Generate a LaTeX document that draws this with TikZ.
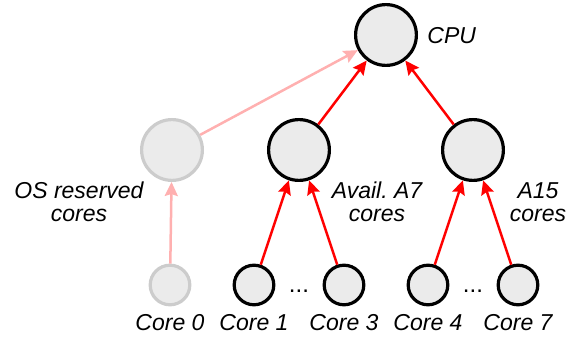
\documentclass[tikz,border=0pt]{standalone}
\usepackage{fontspec}
\setmainfont{Liberation Sans}
\usetikzlibrary{arrows.meta}
\definecolor{corefill}{HTML}{EBEBEB}
\definecolor{osgrey}{HTML}{CCCCCC}
\definecolor{ospink}{HTML}{FFB0B0}

\begin{document}
\begin{tikzpicture}[x=0.5pt,y=-0.5pt]
\tikzstyle{every node}+=[inner sep=0pt, font=\fontsize{11.5}{11.5}\selectfont\itshape]
\tikzstyle{big}=[circle, draw=black, line width=1.6pt, fill=corefill, minimum size=30.4pt]
\tikzstyle{small}=[circle, draw=black, line width=1.6pt, fill=corefill, minimum size=19.8pt]
\tikzstyle{reserved}=[draw=osgrey]
\tikzstyle{link}=[-{Stealth[length=7pt,width=6.5pt,inset=1pt]}, red, line width=1.25pt]
\tikzstyle{oslink}=[link, ospink]
\useasboundingbox (0,0) rectangle (580,341);
% tree nodes
\node [big] (cpu) at (386,35) {};
\node [big, reserved] (os) at (172,150) {};
\node [big] (a7) at (299,150) {};
\node [big] (a15) at (473,150) {};
\node [small, reserved] (c0) at (170,285) {};
\node [small] (c1) at (254,285) {};
\node [small] (c3) at (344,285) {};
\node [small] (c4) at (428,285) {};
\node [small] (c7) at (518,285) {};
% labels
\node [anchor=west] (cpulabel) at (427,36) {CPU};
\node [align=center] (oslabel) at (79,202) {OS reserved\\cores};
\node [align=center] (a7label) at (377,202) {Avail.\ A7\\cores};
\node [align=center] (a15label) at (538,202) {A15\\cores};
\node (c0label) at (170,323) {Core 0};
\node (c1label) at (254,323) {Core 1};
\node (c3label) at (344,323) {Core 3};
\node (c4label) at (428,323) {Core 4};
\node (c7label) at (518,323) {Core 7};
\node [anchor=base, font=\fontsize{12}{12}\selectfont] (dotsa) at (299,293) {...};
\node [anchor=base, font=\fontsize{12}{12}\selectfont] (dotsb) at (473,293) {...};
% edges
\draw [oslink] (c0) -- (os);
\draw [oslink] (os) -- (cpu);
\draw [link] (c1) -- (a7);
\draw [link] (c3) -- (a7);
\draw [link] (c4) -- (a15);
\draw [link] (c7) -- (a15);
\draw [link] (a7) -- (cpu);
\draw [link] (a15) -- (cpu);
\end{tikzpicture}
\end{document}
